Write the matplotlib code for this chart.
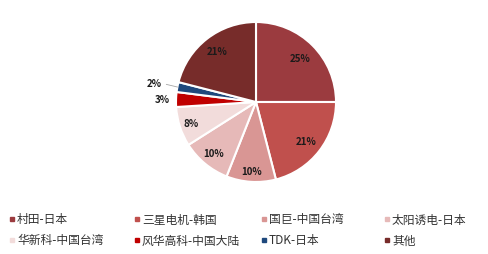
import matplotlib
matplotlib.use("Agg")
import matplotlib.pyplot as plt
import numpy as np

plt.rcParams['font.family'] = ['Noto Sans CJK SC', 'DejaVu Sans']

labels = ['村田-日本', '三星电机-韩国', '国巨-中国台湾', '太阳诱电-日本',
          '华新科-中国台湾', '风华高科-中国大陆', 'TDK-日本', '其他']
values = [25, 21, 10, 10, 8, 3, 2, 21]
colors = ['#9B3B3F', '#C0504D', '#D99694', '#E6B9B8', '#F2DCDB', '#C00000', '#1F497D', '#772C2A']

fig = plt.figure(figsize=(4.88, 2.55), dpi=100)
ax = fig.add_axes([0.0, 0.0, 1.0, 1.0])
ax.set_xlim(0, 488)
ax.set_ylim(255, 0)
ax.axis('off')

pax = fig.add_axes([(256 - 80) / 488, 1 - (103 + 80) / 255, 160 / 488, 160 / 255])
wedges, _ = pax.pie(values, colors=colors, startangle=90, counterclock=False,
                    wedgeprops=dict(edgecolor='white', linewidth=1.5))
pax.set_aspect('equal')
pax.set_xlim(-1, 1)
pax.set_ylim(-1, 1)

dist = [0.78, 0.8, 0.87, 0.83, 0.85, 1.17, 1.3, 0.8]
for w, v, d in zip(wedges, values, dist):
    ang = np.deg2rad((w.theta1 + w.theta2) / 2)
    x, y = np.cos(ang), np.sin(ang)
    if v == 2:
        tx, ty = -1.27, 0.24
        pax.plot([x * 1.0, -1.12], [y * 1.0, 0.22], color='#A6A6A6', lw=0.6, clip_on=False)
        pax.text(tx, ty, f'{v}%', ha='center', va='center', fontsize=7,
                 fontweight='bold', color='#1a1a1a', clip_on=False)
    else:
        pax.text(x * d, y * d, f'{v}%', ha='center', va='center', fontsize=7,
                 fontweight='bold', color='#1a1a1a', clip_on=False)

colx = [10, 135, 262, 385]
rowy = [220, 241]
for i, (lab, c) in enumerate(zip(labels, colors)):
    r, col = divmod(i, 4)
    x, y = colx[col], rowy[r]
    ax.add_patch(plt.Rectangle((x, y - 2), 4, 4, color=c))
    ax.text(x + 7, y, lab, va='center', ha='left', fontsize=8.5, color='#333333')

fig.savefig('out.png', dpi=100)
